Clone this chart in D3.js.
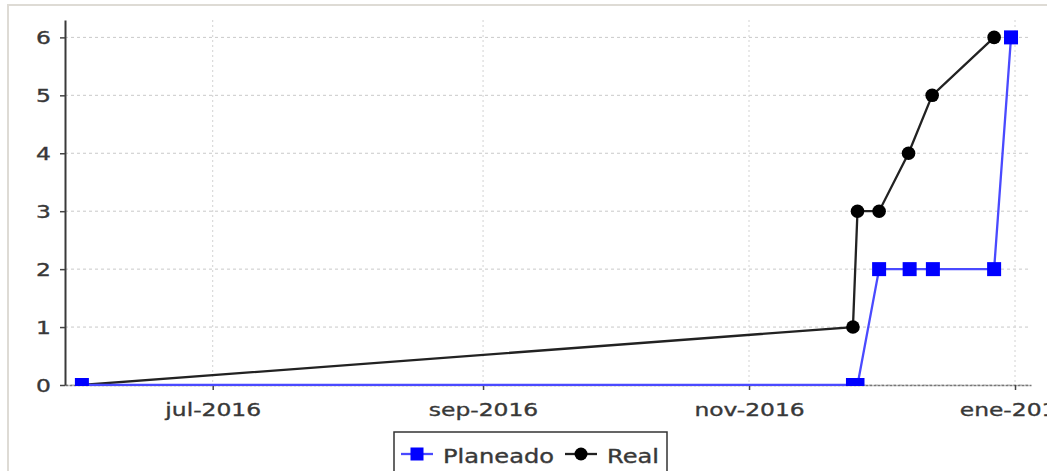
<!DOCTYPE html>
<html>
<head>
<meta charset="utf-8">
<script src="https://cdn.jsdelivr.net/npm/d3@7"></script>
<style>
  html, body { margin: 0; padding: 0; background: #fff; }
  svg text { font-family: "DejaVu Sans", sans-serif; }
</style>
</head>
<body>
<svg id="chart" width="1047" height="471"></svg>
<script>
// ---- data ----
const xTickDates = ["2016-07-01T00:00", "2016-09-01T00:00", "2016-11-01T00:00", "2017-01-01T00:00"];
const xTickLabels = ["jul-2016", "sep-2016", "nov-2016", "ene-2017"];
const yTicks = [0, 1, 2, 3, 4, 5, 6];

const seriesNames = ["Planeado", "Real"];
const planDates = ["2016-06-01T00:00", "2016-11-24T20:00", "2016-11-25T21:00", "2016-11-30T20:00",
                   "2016-12-07T20:00", "2016-12-13T04:00", "2016-12-27T05:00", "2016-12-31T02:00"];
const planValues = [0, 0, 0, 2, 2, 2, 2, 6];
const realDates = ["2016-06-01T00:00", "2016-11-24T20:00", "2016-11-25T21:00", "2016-11-30T20:00",
                   "2016-12-07T14:00", "2016-12-13T00:00", "2016-12-27T05:00"];
const realValues = [0, 1, 3, 3, 4, 5, 6];

// ---- setup ----
const parse = d3.utcParse("%Y-%m-%dT%H:%M");
const svg = d3.select("#chart");
const W = 1047, H = 471;
const plot = { left: 65, right: 1031, top: 20, bottom: 385 };
const sx = 1.3; // horizontal text stretch
const textColor = "#383838";

svg.append("rect").attr("width", W).attr("height", H).attr("fill", "#fff");
svg.append("rect").attr("x", 8).attr("y", 5).attr("width", W + 20).attr("height", H + 20)
  .attr("fill", "#fff").attr("stroke", "#dedbd5").attr("stroke-width", 2);

const x = d3.scaleUtc()
  .domain([parse("2016-05-28T03:00"), parse("2017-01-04T16:00")])
  .range([plot.left, plot.right]);
const y = d3.scaleLinear().domain([0, 6.3]).range([plot.bottom, plot.top]);

const xTicks = xTickDates.map(parse);

// gridlines
svg.append("g").selectAll("line").data(yTicks).join("line")
  .attr("x1", plot.left).attr("x2", plot.right)
  .attr("y1", d => y(d)).attr("y2", d => y(d))
  .attr("stroke", "#c9c9c9").attr("stroke-width", 1).attr("stroke-dasharray", "3,3");
svg.append("g").selectAll("line").data(xTicks).join("line")
  .attr("x1", d => x(d)).attr("x2", d => x(d))
  .attr("y1", plot.top).attr("y2", plot.bottom)
  .attr("stroke", "#d2d2d2").attr("stroke-width", 1).attr("stroke-dasharray", "2,3");

// x axis
const xAxis = d3.axisBottom(x).tickValues(xTicks).tickSize(5).tickSizeOuter(0)
  .tickFormat((d, i) => xTickLabels[i]);
const gx = svg.append("g").attr("transform", `translate(0,${plot.bottom})`).call(xAxis);
gx.select(".domain").attr("stroke", "#777").attr("stroke-width", 1.5).attr("stroke-dasharray", "3,1");
gx.selectAll(".tick line").attr("stroke", "#444").attr("stroke-width", 1.5);
gx.selectAll(".tick text")
  .attr("font-size", 18).attr("fill", textColor).attr("y", 0).attr("dy", 0)
  .attr("stroke", textColor).attr("stroke-width", 0.35)
  .attr("transform", `translate(0,31) scale(${sx},1)`)
  .style("font-family", "DejaVu Sans, sans-serif");

// y axis
const yAxis = d3.axisLeft(y).tickValues(yTicks).tickSize(5).tickSizeOuter(0).tickFormat(d3.format("d"));
const gy = svg.append("g").attr("transform", `translate(${plot.left},0)`).call(yAxis);
gy.select(".domain").attr("stroke", "#3a3a3a").attr("stroke-width", 2);
gy.selectAll(".tick line").attr("stroke", "#444").attr("stroke-width", 1.5);
gy.selectAll(".tick text")
  .attr("font-size", 18).attr("fill", textColor).attr("x", 0).attr("dy", 0)
  .attr("stroke", textColor).attr("stroke-width", 0.35)
  .attr("transform", `translate(-14,6.5) scale(${sx},1)`)
  .style("font-family", "DejaVu Sans, sans-serif");

// clip
svg.append("clipPath").attr("id", "clip").append("rect")
  .attr("x", plot.left).attr("y", plot.top)
  .attr("width", plot.right - plot.left).attr("height", plot.bottom - plot.top + 1);

const plan = planDates.map((d, i) => ({ t: parse(d), v: planValues[i] }));
const real = realDates.map((d, i) => ({ t: parse(d), v: realValues[i] }));
const line = d3.line().x(d => x(d.t)).y(d => y(d.v));

const g = svg.append("g").attr("clip-path", "url(#clip)");

// Real (drawn first, below)
g.append("path").datum(real).attr("d", line)
  .attr("fill", "none").attr("stroke", "#222").attr("stroke-width", 2.3);
g.selectAll("circle.real").data(real).join("circle").attr("class", "real")
  .attr("cx", d => x(d.t)).attr("cy", d => y(d.v)).attr("r", 6.8).attr("fill", "#000");

// Planeado
const blue = "#0000ff";
g.append("path").datum(plan).attr("d", line)
  .attr("fill", "none").attr("stroke", "#4a4aff").attr("stroke-width", 2.3);
g.selectAll("rect.plan").data(plan).join("rect").attr("class", "plan")
  .attr("x", d => x(d.t) - 7).attr("y", d => y(d.v) - 7).attr("width", 14).attr("height", 14)
  .attr("fill", blue);

// legend
const lg = svg.append("g");
lg.append("rect").attr("x", 394).attr("y", 432).attr("width", 273).attr("height", 60)
  .attr("fill", "#fff").attr("stroke", "#333").attr("stroke-width", 1.5);
const legendItems = [
  { name: seriesNames[0], x0: 401, color: "#4a4aff", marker: "square", tx: 443 },
  { name: seriesNames[1], x0: 565, color: "#222", marker: "circle", tx: 607 }
];
legendItems.forEach(it => {
  lg.append("line").attr("x1", it.x0).attr("x2", it.x0 + 32).attr("y1", 454).attr("y2", 454)
    .attr("stroke", it.color).attr("stroke-width", 2.3);
  if (it.marker === "square") {
    lg.append("rect").attr("x", it.x0 + 16 - 6.5).attr("y", 454 - 6.5).attr("width", 13).attr("height", 13).attr("fill", blue);
  } else {
    lg.append("circle").attr("cx", it.x0 + 16).attr("cy", 454).attr("r", 6.5).attr("fill", "#000");
  }
  lg.append("text").attr("transform", `translate(${it.tx},463) scale(1.27,1)`)
    .attr("font-size", 19).attr("fill", textColor)
    .attr("stroke", textColor).attr("stroke-width", 0.35).text(it.name);
});
</script>
</body>
</html>
